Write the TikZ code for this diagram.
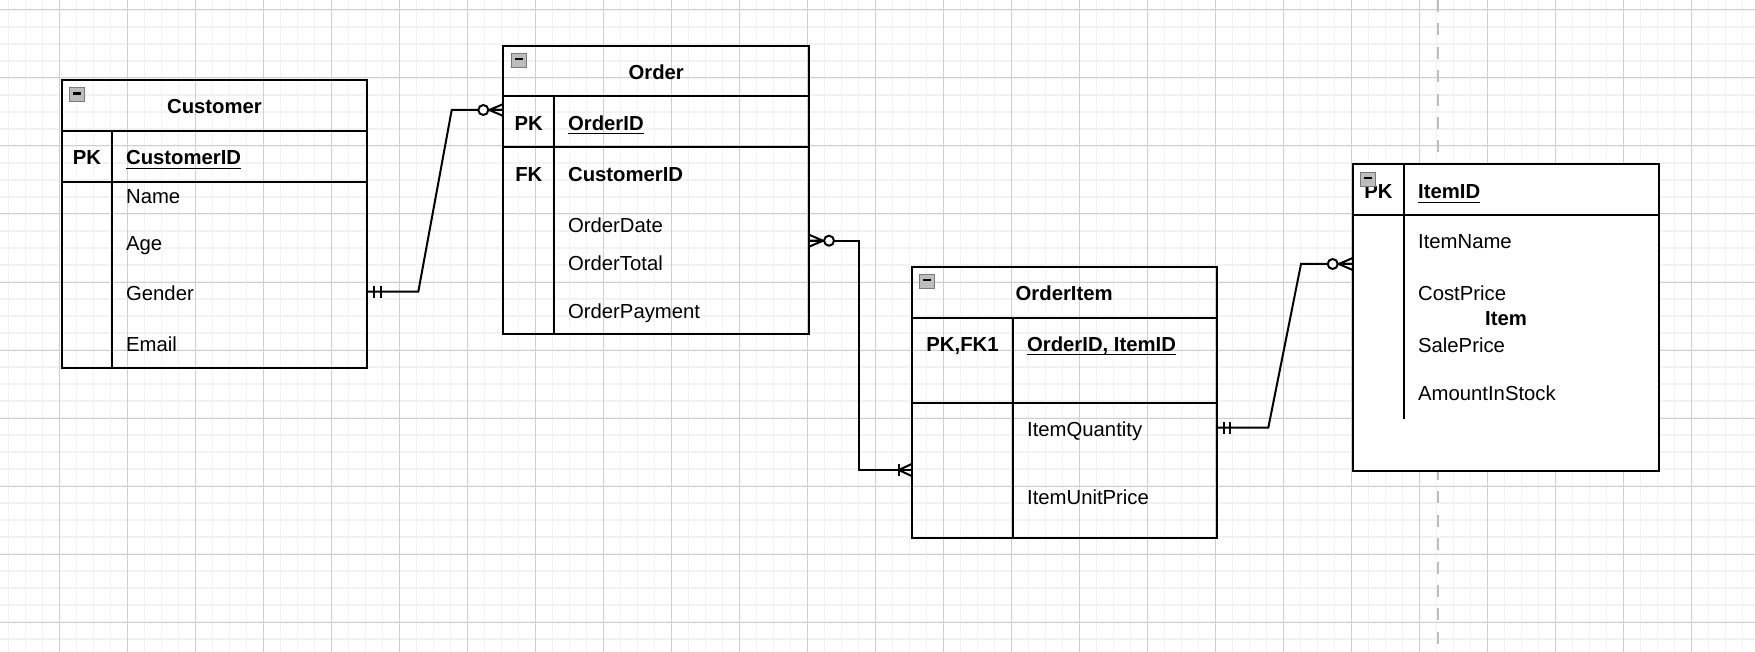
\documentclass[tikz,border=0pt]{standalone}
\usepackage{fontspec}
\setmainfont{Liberation Sans}
\usetikzlibrary{calc,fit}

\definecolor{rasterfein}{HTML}{F3F3F3}
\definecolor{rastergrob}{HTML}{D0D0D0}
\definecolor{seitenumbruch}{HTML}{BEBEBE}
\definecolor{knopfgrau}{HTML}{BDBDBD}
\definecolor{knopfrand}{HTML}{7A7A7A}

\tikzset{
  feinraster/.style={line width=0.75pt, color=rasterfein},
  grobraster/.style={line width=0.5pt, color=rastergrob},
  linie/.style={line width=1pt},
  verbinder/.style={line width=1pt},
  tabelle/.style={draw, line width=1pt, inner sep=0pt, outer sep=0pt},
  feld/.style={font=\fontsize{10.15}{12}\selectfont, inner sep=0pt, anchor=base west},
  feldfett/.style={feld, font=\fontsize{10.15}{12}\selectfont\bfseries},
  titel/.style={font=\fontsize{10.15}{12}\selectfont\bfseries, inner sep=0pt, anchor=base},
  % Endmarken, Kante im Ursprung, Linie kommt von links
  keinodermehr/.pic={
    \draw[linie] (-14,0) -- (0,-6) (-14,0) -- (0,6) (-14,0) -- (0,0);
    \draw[linie, fill=white] (-20,0) circle (5);
  },
  genaueins/.pic={
    \draw[linie] (-7,-6) -- (-7,6) (-13.5,-6) -- (-13.5,6);
  },
  einsodermehr/.pic={
    \draw[linie] (-13,-6) -- (-13,6);
    \draw[linie] (-13,0) -- (0,-6) (-13,0) -- (0,6);
  },
  knopf/.pic={
    \draw[draw=knopfrand, fill=knopfgrau, line width=0.5pt] (0,0) rectangle (15,14);
    \draw[line width=1.1pt] (3.5,5.5) -- (11.5,5.5);
  }
}

\begin{document}
\begin{tikzpicture}[x=0.5pt,y=-0.5pt]
  \fill[white] (0,0) rectangle (1755,652);
  \useasboundingbox (0,0) rectangle (1755,652);
  % Raster
  \foreach \x in {8.3,25.3,...,1755} \draw[feinraster] (\x,0) -- (\x,652);
  \foreach \y in {10,27,...,652} \draw[feinraster] (0,\y) -- (1755,\y);
  \foreach \x in {59.3,127.3,...,1755} \draw[grobraster] (\x,0) -- (\x,652);
  \foreach \y in {10,78,...,652} \draw[grobraster] (0,\y) -- (1755,\y);
  \draw[line width=1pt, seitenumbruch, dash pattern=on 6 off 5.7] (1437.5,0) -- (1437.5,652);

  % Customer
  \coordinate (c1) at (61.7,80);
  \coordinate (c2) at (367.3,367.7);
  \node[tabelle, fit=(c1)(c2)] (customer) {};
  \draw[linie] (61.7,130.7) -- (367.3,130.7) (61.7,181.7) -- (367.3,181.7) (112.3,130.7) -- (112.3,367.7);
  \pic at ($(customer.north west)+(8,8)$) {knopf};
  \node[titel] (customerTitel) at (214.5,113.3) {Customer};
  \node[titel] (customerPK) at (87,165) {PK};
  \node[feldfett] (customerId) at (125.7,165) {\underline{CustomerID}};
  \node[feld] (customerName) at (125.7,203.3) {Name};
  \node[feld] (customerAge) at (125.7,250.3) {Age};
  \node[feld] (customerGender) at (125.7,300.3) {Gender};
  \node[feld] (customerEmail) at (125.7,351.6) {Email};

  % Order
  \coordinate (o1) at (503.3,45.7);
  \coordinate (o2) at (809,334.3);
  \node[tabelle, fit=(o1)(o2)] (order) {};
  \draw[linie] (503.3,96) -- (809,96) (503.3,147.3) -- (809,147.3) (554.3,96) -- (554.3,334.3);
  \pic at ($(order.north west)+(8,8)$) {knopf};
  \node[titel] (orderTitel) at (656.2,79.6) {Order};
  \node[titel] (orderPK) at (528.8,130.6) {PK};
  \node[feldfett] (orderId) at (567.7,130.6) {\underline{OrderID}};
  \node[titel] (orderFK) at (528.8,181.6) {FK};
  \node[feldfett] (orderCustomer) at (567.7,181.6) {CustomerID};
  \node[feld] (orderDate) at (567.7,232.3) {OrderDate};
  \node[feld] (orderTotal) at (567.7,270.6) {OrderTotal};
  \node[feld] (orderPayment) at (567.7,318) {OrderPayment};

  % OrderItem
  \coordinate (oi1) at (911.7,266.7);
  \coordinate (oi2) at (1216.7,538.3);
  \node[tabelle, fit=(oi1)(oi2)] (orderitem) {};
  \draw[linie] (911.7,317.7) -- (1216.7,317.7) (911.7,402.7) -- (1216.7,402.7) (1013.3,317.7) -- (1013.3,538.3);
  \pic at ($(orderitem.north west)+(8,8)$) {knopf};
  \node[titel] (orderitemTitel) at (1064.2,300) {OrderItem};
  \node[titel] (orderitemPK) at (962.5,351.6) {PK,FK1};
  \node[feldfett] (orderitemId) at (1026.7,351.6) {\underline{\smash{OrderID, ItemID}}};
  \node[feld] (orderitemQuantity) at (1026.7,436.6) {ItemQuantity};
  \node[feld] (orderitemPrice) at (1026.7,504) {ItemUnitPrice};

  % Item
  \coordinate (i1) at (1352.7,164.3);
  \coordinate (i2) at (1659.3,470.7);
  \node[tabelle, fill=white, fit=(i1)(i2)] (item) {};
  \draw[linie] (1352.7,215) -- (1659.3,215) (1404.3,164.3) -- (1404.3,419.3);
  \node[titel] (itemPK) at (1378.5,199) {PK};
  \pic at ($(item.north west)+(8,8)$) {knopf};
  \node[feldfett] (itemId) at (1417.7,199) {\underline{ItemID}};
  \node[feld] (itemName) at (1417.7,249) {ItemName};
  \node[feld] (itemCost) at (1417.7,300) {CostPrice};
  \node[titel] (itemTitel) at (1506,325.6) {Item};
  \node[feld] (itemSale) at (1417.7,352.3) {SalePrice};
  \node[feld] (itemStock) at (1417.7,400) {AmountInStock};

  % Verbindungen
  \coordinate (custR) at ($(customer.north east)+(0,211.7)$);
  \coordinate (ordL) at ($(order.north west)+(0,64.3)$);
  \coordinate (ordR) at ($(order.north east)+(0,195)$);
  \coordinate (oiL) at ($(orderitem.north west)+(0,203.3)$);
  \coordinate (oiR) at ($(orderitem.north east)+(0,161)$);
  \coordinate (itemL) at ($(item.north west)+(0,99.7)$);
  \draw[verbinder] (custR) -- ++(51,0) -- ($(ordL)+(-51.6,0)$) -- (ordL);
  \draw[verbinder] (ordR) -- ($(ordR)+(50.3,0)$) |- (oiL);
  \draw[verbinder] (oiR) -- ++(51.6,0) -- ($(itemL)+(-51.7,0)$) -- (itemL);
  \pic[xscale=-1] at (custR) {genaueins};
  \pic at (ordL) {keinodermehr};
  \pic[xscale=-1] at (ordR) {keinodermehr};
  \pic at (oiL) {einsodermehr};
  \pic[xscale=-1] at (oiR) {genaueins};
  \pic at (itemL) {keinodermehr};
\end{tikzpicture}
\end{document}
